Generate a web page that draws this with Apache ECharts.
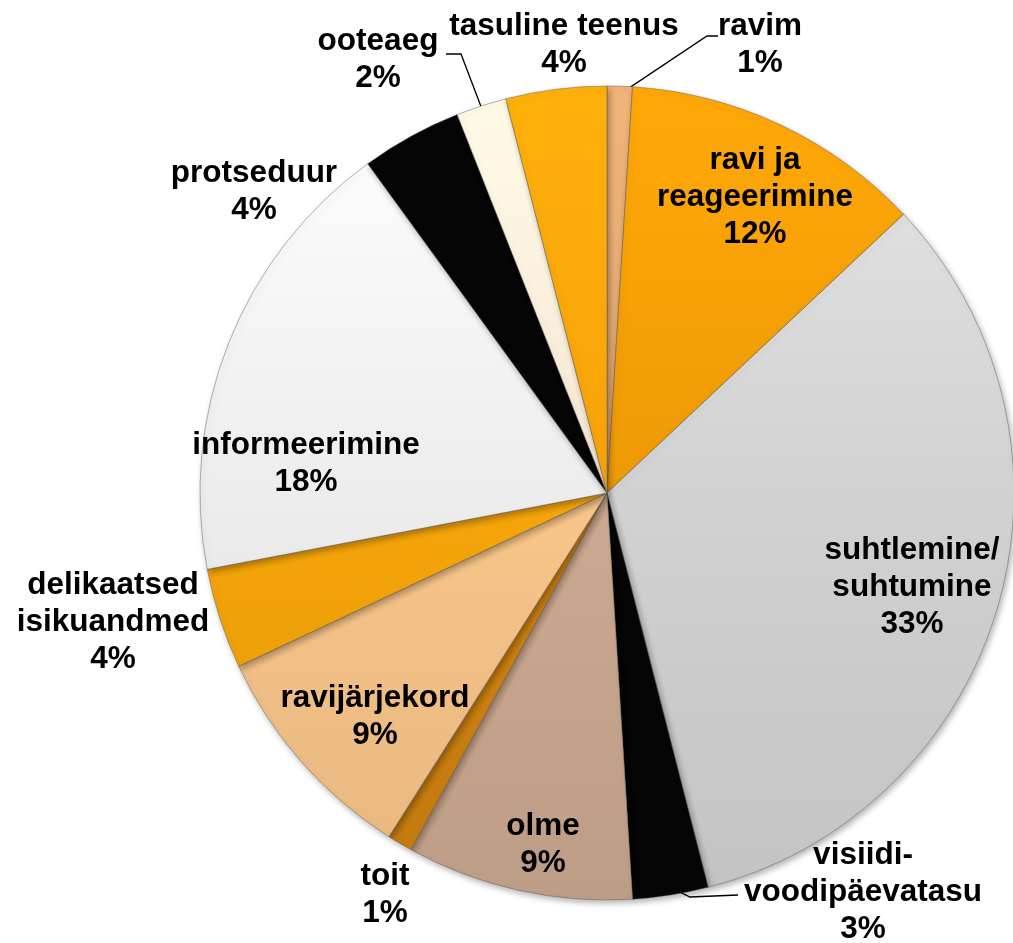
<!DOCTYPE html>
<html>
<head>
<meta charset="utf-8">
<script src="https://cdn.jsdelivr.net/npm/echarts@6/dist/echarts.min.js"></script>
<style>
html, body { margin: 0; padding: 0; background: #fff; }
#chart { width: 1013px; height: 943px; }
</style>
</head>
<body>
<div id="chart"></div>
<script>
// slices, clockwise from 12 o'clock
const categories = ['ravim', 'ravi ja\nreageerimine', 'suhtlemine/\nsuhtumine', 'visiidi-\nvoodipäevatasu',
  'olme', 'toit', 'ravijärjekord', 'delikaatsed\nisikuandmed', 'informeerimine', 'protseduur',
  'ooteaeg', 'tasuline teenus']
const shares = [1, 12, 33, 3, 9, 1, 9, 4, 18, 4, 2, 4]
const sliceColors = ['#DDA570', '#EE9A06', '#D2D2D2', '#050505', '#CCA990', '#D08210',
  '#F8C58A', '#F5A50A', '#EDEDED', '#050505', '#F6E6D4', '#F7A209']

const cx = 607, cy = 493, R = 407

// label centres, relative to pie centre
const labelSpots = [[153, -448], [148, -296], [305, 94], [256, 399], [-64, 352], [-222, 402],
  [-232, 224], [-494, 129], [-301, -29], [-353, -301], [-229, -433], [-43, -448]]
// leader lines: [elbow, end] relative to centre
const leaders = {
  0: [[100, -457], [111, -457]],
  3: [[83, 404], [131, 402]],
  10: [[-146, -439], [-161, -439]]
}

function tint(hex, t) {
  const n = parseInt(hex.slice(1), 16)
  const f = c => Math.max(0, Math.min(255, Math.round(c * (1 + t))))
  return 'rgb(' + f(n >> 16) + ',' + f((n >> 8) & 255) + ',' + f(n & 255) + ')'
}

const total = shares.reduce((a, b) => a + b, 0)
let acc = 0
const midAngles = shares.map(v => { const m = (acc + v / 2) / total * 2 * Math.PI; acc += v; return m })

const data = categories.map((name, i) => ({
  name: name,
  value: shares[i],
  itemStyle: {
    color: {
      type: 'linear', x: 0, y: cy - R, x2: 0, y2: cy + R, global: true,
      colorStops: [
        { offset: 0, color: tint(sliceColors[i], 0.09) },
        { offset: 0.5, color: sliceColors[i] },
        { offset: 1, color: tint(sliceColors[i], -0.07) }
      ]
    }
  },
  labelLine: { show: !!leaders[i] }
}))

const myChart = echarts.init(document.getElementById('chart'))
const option = {
  animation: false,
  series: [{
    type: 'pie',
    center: [cx, cy],
    radius: R,
    startAngle: 90,
    clockwise: true,
    avoidLabelOverlap: false,
    data: data,
    itemStyle: {
      borderColor: 'rgba(90,90,90,0.45)',
      borderWidth: 1,
      shadowBlur: 6,
      shadowColor: 'rgba(0,0,0,0.3)',
      shadowOffsetX: 2,
      shadowOffsetY: 3
    },
    label: {
      show: true,
      position: 'outside',
      formatter: '{b}\n{c}%',
      color: '#000',
      fontFamily: 'Liberation Sans, Arial, sans-serif',
      fontWeight: 'bold',
      fontSize: 31.5,
      lineHeight: 37,
      align: 'center'
    },
    labelLine: {
      show: false,
      lineStyle: { color: '#000', width: 1.3 }
    },
    labelLayout: function (params) {
      const i = params.dataIndex
      const s = labelSpots[i]
      const out = { x: cx + s[0], y: cy + s[1], align: 'center', verticalAlign: 'middle' }
      if (leaders[i]) {
        const a = midAngles[i]
        const start = [cx + Math.sin(a) * R * 0.98, cy - Math.cos(a) * R * 0.98]
        out.labelLinePoints = [start,
          [cx + leaders[i][0][0], cy + leaders[i][0][1]],
          [cx + leaders[i][1][0], cy + leaders[i][1][1]]]
      }
      return out
    }
  }]
}
if (option && typeof option === 'object') {
  myChart.setOption(option)
}
</script>
</body>
</html>
